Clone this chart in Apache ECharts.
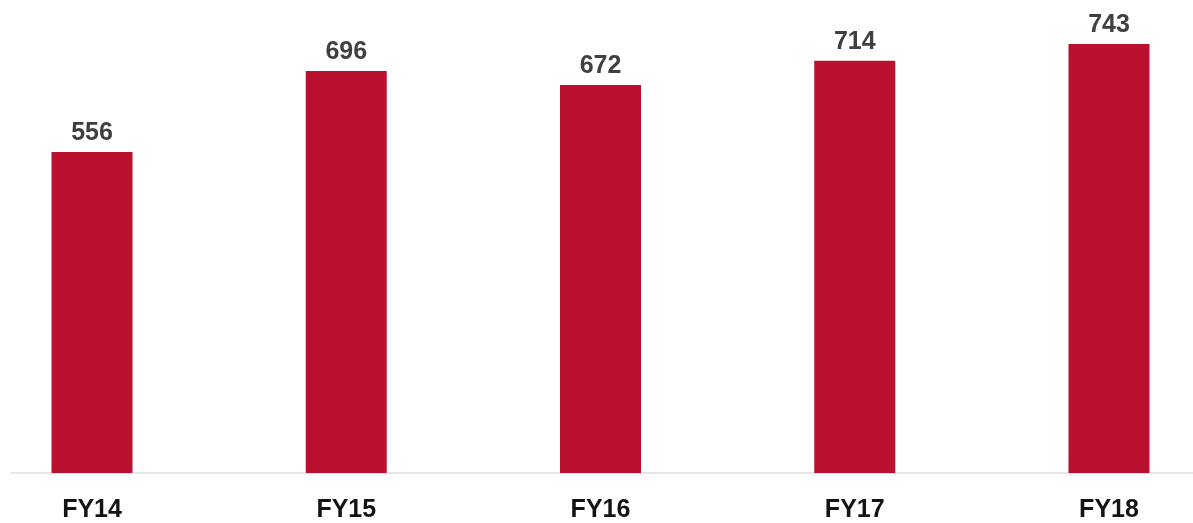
<!DOCTYPE html>
<html>
<head>
<meta charset="utf-8">
<script src="https://cdn.jsdelivr.net/npm/echarts@6/dist/echarts.min.js"></script>
<style>
html,body{margin:0;padding:0;background:#fff;}
#c{width:1193px;height:523px;}
</style>
</head>
<body>
<div id="c"></div>
<script>
var categories = ['FY14', 'FY15', 'FY16', 'FY17', 'FY18'];
var values = [556, 696, 672, 714, 743];

var positions = categories.map(function (c, i) { return i; });
var barData = values.map(function (v, i) { return [i, v]; });

var chart = echarts.init(document.getElementById('c'));
chart.setOption({
  animation: false,
  backgroundColor: '#ffffff',
  grid: { left: 11, right: 0, top: 11, bottom: 49, containLabel: false },
  xAxis: {
    type: 'value', min: -0.3186, max: 4.3304,
    axisLine: { show: true, onZero: false, lineStyle: { color: '#dedede', width: 1.5 } },
    axisTick: { show: false },
    splitLine: { show: false },
    axisLabel: {
      customValues: positions,
      formatter: function (v) { return categories[Math.round(v)]; },
      color: '#141414', fontSize: 25, fontWeight: 'bold',
      fontFamily: 'Liberation Sans, Arial, sans-serif', margin: 25
    }
  },
  yAxis: { type: 'value', min: 0, max: 800, show: false, splitLine: { show: false } },
  series: [{
    type: 'bar',
    data: barData,
    barWidth: 81,
    itemStyle: { color: '#ba1131' },
    label: {
      show: true, position: 'top', distance: 6,
      formatter: function (p) { return p.value[1]; },
      color: '#404040', fontSize: 25, fontWeight: 'bold',
      fontFamily: 'Liberation Sans, Arial, sans-serif'
    }
  }]
});
</script>
</body>
</html>
